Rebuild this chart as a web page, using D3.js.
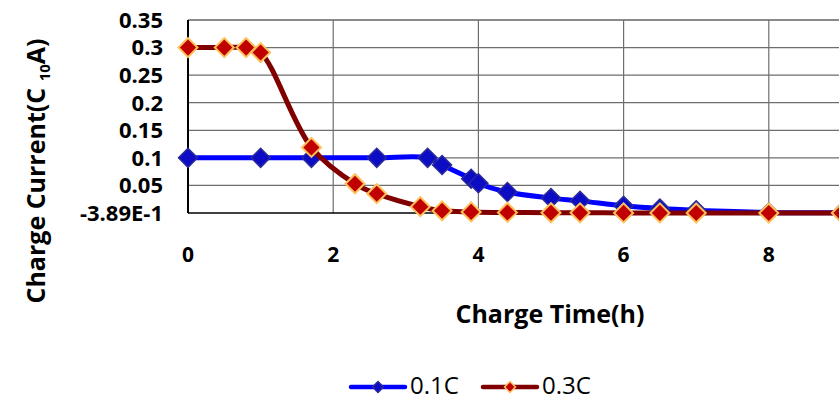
<!DOCTYPE html>
<html>
<head>
<meta charset="utf-8">
<script src="https://cdn.jsdelivr.net/npm/d3@7"></script>
<style>
  body { margin: 0; background: #fff; }
  svg { display: block; font-family: "Open Sans", sans-serif; }
</style>
</head>
<body>
<div id="chart"></div>
<script>
// 0.1C charge
var time01 = [0, 1, 1.7, 2.6, 3.3, 3.5, 3.9, 4.0, 4.4, 5.0, 5.4, 6.0, 6.5, 7.0, 8.0, 9.0];
var curr01 = [0.1, 0.1, 0.1, 0.1, 0.1, 0.087, 0.062, 0.054, 0.038, 0.027, 0.022, 0.013, 0.008, 0.005, 0.001, 0.0005];
// 0.3C charge
var time03 = [0, 0.5, 0.8, 1.0, 1.7, 2.3, 2.6, 3.2, 3.5, 3.9, 4.4, 5.0, 5.4, 6.0, 6.5, 7.0, 8.0, 9.0];
var curr03 = [0.3, 0.3, 0.3, 0.291, 0.119, 0.053, 0.035, 0.0115, 0.004, 0.002, 0.001, 0.0005, 0.0003, 0.0002, 0.0001, 0, 0, 0];

var xTicks = [0, 2, 4, 6, 8];
var yTicks = [0, 0.05, 0.1, 0.15, 0.2, 0.25, 0.3, 0.35];
var yTickLabels = ["-3.89E-1", "0.05", "0.1", "0.15", "0.2", "0.25", "0.3", "0.35"];

var width = 839, height = 400;
var svg = d3.select("#chart").append("svg")
  .attr("width", width).attr("height", height);

// plot runs past the right edge of the window, as in the original
var x = d3.scaleLinear().domain([0, 10]).range([188, 914]);
var y = d3.scaleLinear().domain([0, 0.35]).range([213, 20]);

var series = [
  {name: "0.1C", t: time01, v: curr01, line: "#0000ff", fill: "#0c0cc4", stroke: "#2b2b9c", sw: 1.5},
  {name: "0.3C", t: time03, v: curr03, line: "#800000", fill: "#c00000", stroke: "#ffc05a", sw: 2}
];

// gridlines
svg.append("g").selectAll("line").data(yTicks.slice(1)).join("line")
  .attr("x1", x(0)).attr("x2", width)
  .attr("y1", d => y(d)).attr("y2", d => y(d))
  .attr("stroke", d => d === 0.35 ? "#8a8a8a" : "#6e6e6e")
  .attr("stroke-width", d => d === 0.35 ? 2 : 1.2);

svg.append("g").selectAll("line").data(xTicks.slice(1)).join("line")
  .attr("x1", d => x(d)).attr("x2", d => x(d))
  .attr("y1", y(0.35)).attr("y2", y(0))
  .attr("stroke", "#6e6e6e").attr("stroke-width", 1.2);

// axes lines
svg.append("line").attr("x1", x(0)).attr("x2", width)
  .attr("y1", y(0)).attr("y2", y(0)).attr("stroke", "#000").attr("stroke-width", 1.5);
svg.append("line").attr("x1", x(0)).attr("x2", x(0))
  .attr("y1", y(0.35)).attr("y2", y(0)).attr("stroke", "#000").attr("stroke-width", 2);

// tick labels
svg.append("g").selectAll("text").data(yTicks).join("text")
  .attr("x", 163).attr("y", d => y(d)).attr("dy", "0.36em")
  .attr("text-anchor", "end")
  .style("font-size", "22px").style("font-weight", "bold")
  .text((d, i) => yTickLabels[i]);

svg.append("g").selectAll("text").data(xTicks).join("text")
  .attr("x", d => x(d)).attr("y", 262)
  .attr("text-anchor", "middle")
  .style("font-size", "21px").style("font-weight", "bold")
  .text(d => d);

// axis titles
svg.append("text").attr("x", 550).attr("y", 323)
  .attr("text-anchor", "middle")
  .style("font-size", "25px").style("font-weight", "bold")
  .text("Charge Time(h)");

var yt = svg.append("text")
  .attr("transform", "translate(45,171) rotate(-90)")
  .attr("text-anchor", "middle")
  .style("font-size", "25px").style("font-weight", "bold");
yt.append("tspan").text("Charge Current(C ");
yt.append("tspan").attr("dy", 5).style("font-size", "15px").text("10");
yt.append("tspan").attr("dy", -5).text("A)");

// lines and markers
var line = d3.line().curve(d3.curveCatmullRom.alpha(0.5))
  .x(d => x(d[0])).y(d => y(d[1]));
var diamond = d3.symbol().type(d3.symbolSquare).size(180);

series.forEach(function (s) {
  var pts = s.t.map((t, i) => [t, s.v[i]]);
  svg.append("path").datum(pts)
    .attr("d", line).attr("fill", "none")
    .attr("stroke", s.line).attr("stroke-width", 5);
  svg.append("g").selectAll("path").data(pts).join("path")
    .attr("d", diamond)
    .attr("transform", d => "translate(" + x(d[0]) + "," + y(d[1]) + ") rotate(45)")
    .attr("fill", s.fill).attr("stroke", s.stroke).attr("stroke-width", s.sw);
});

// legend
var legX = [351, 483];
var smallDiamond = d3.symbol().type(d3.symbolSquare).size(60);
series.forEach(function (s, i) {
  var g = svg.append("g").attr("transform", "translate(" + legX[i] + ",387)");
  g.append("line").attr("x1", 0).attr("x2", 54)
    .attr("stroke", s.line).attr("stroke-width", 4.5).attr("stroke-linecap", "round");
  g.append("path").attr("d", smallDiamond)
    .attr("transform", "translate(27,0) rotate(45)")
    .attr("fill", s.fill).attr("stroke", s.stroke).attr("stroke-width", 1.5);
  g.append("text").attr("x", 59).attr("y", 7)
    .style("font-size", "24px")
    .text(s.name);
});
</script>
</body>
</html>
